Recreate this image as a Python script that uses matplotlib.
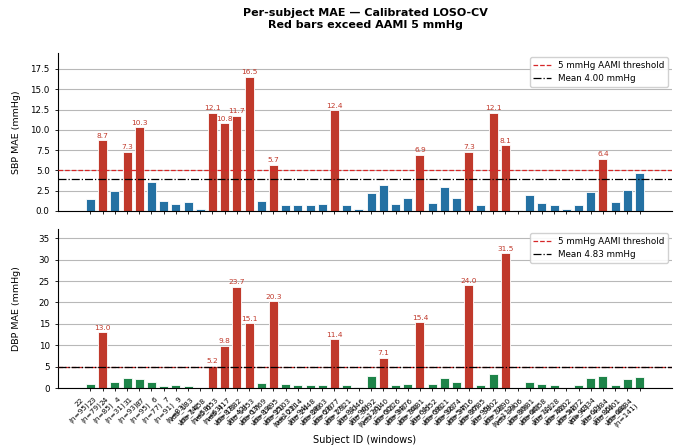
import numpy as np
import matplotlib.pyplot as plt

#### per-subject data ###############################
subject_ids = ["22", "23", "24", "4", "31", "87", "6", "7", "9", "vdb_183",
               "vdb_1458", "vdb_653", "vdb_417", "vdb_1882", "vdb_1853", "vdb_1769",
               "vdb_1495", "vdb_2103", "vdb_2214", "vdb_2448", "vdb_2663", "vdb_2677",
               "vdb_2921", "vdb_3046", "vdb_3092", "vdb_3140", "vdb_3226", "vdb_3376",
               "vdb_3481", "vdb_3552", "vdb_3621", "vdb_3674", "vdb_3716", "vdb_3785",
               "vdb_3802", "vdb_3890", "vdb_3906", "vdb_3981", "vdb_4058", "vdb_4128",
               "vdb_4202", "vdb_4272", "vdb_4334", "vdb_4384", "vdb_4401", "vdb_4484"]
n_windows = [95, 79, 85, 31, 93, 95, 77, 91, 83, 74,
             58, 63, 87, 42, 63, 89, 95, 103, 94, 88,
             63, 77, 81, 96, 126, 60, 94, 76, 61, 69,
             92, 54, 86, 95, 72, 112, 80, 66, 71, 78,
             54, 92, 62, 85, 68, 141]

sbp_mae = [1.5, 8.7, 2.5, 7.3, 10.3, 3.6, 1.2, 0.9, 1.1, 0.2,
           12.1, 10.8, 11.7, 16.5, 1.2, 5.7, 0.8, 0.8, 0.8, 0.9,
           12.4, 0.7, 0.2, 2.2, 3.2, 0.9, 1.6, 6.9, 1.0, 2.9,
           1.6, 7.3, 0.8, 12.1, 8.1, 0.15, 2.0, 1.0, 0.7, 0.25,
           0.8, 2.3, 6.4, 1.1, 2.6, 4.7]
dbp_mae = [0.9, 13.0, 1.5, 2.4, 2.0, 1.5, 0.5, 0.6, 0.5, 0.08,
           5.2, 9.8, 23.7, 15.1, 1.1, 20.3, 0.9, 0.8, 0.7, 0.7,
           11.4, 0.7, 0.2, 2.7, 7.1, 0.6, 1.0, 15.4, 0.9, 2.4,
           1.4, 24.0, 0.7, 3.2, 31.5, 0.05, 1.5, 1.0, 0.7, 0.08,
           0.6, 2.4, 2.8, 0.8, 2.0, 2.5]
sbp_mean = 4.00
dbp_mean = 4.83
aami_limit = 5

RED = '#c0392b'
BLUE = '#2471a3'
GREEN = '#1e8449'


def draw_panel(ax, values, mean_val, ok_color, ylabel):
    x = np.arange(len(values))
    vals = np.array(values)
    colors = [RED if v > aami_limit else ok_color for v in vals]
    ax.bar(x, vals, width=0.75, color=colors, edgecolor='white', linewidth=0.6, zorder=2)
    for xi, v in zip(x, vals):
        if v > aami_limit:
            ax.text(xi, v + vals.max() * 0.012, f"{v:.1f}", ha='center', va='bottom',
                    fontsize=5.3, color=RED)
    ax.axhline(aami_limit, color='#d62728', ls='--', lw=0.9, label=f'{aami_limit} mmHg AAMI threshold', zorder=3)
    ax.axhline(mean_val, color='black', ls='-.', lw=0.9, label=f'Mean {mean_val:.2f} mmHg', zorder=3)
    ax.set_ylim(0, vals.max() * 1.18)
    ax.set_ylabel(ylabel, fontsize=6.8)
    ax.yaxis.set_label_coords(-0.06, 0.5)
    ax.grid(axis='y', color='#b8b8b8', lw=0.8, zorder=0)
    ax.set_axisbelow(True)
    ax.spines['top'].set_visible(False)
    ax.spines['right'].set_visible(False)
    ax.tick_params(labelsize=6.3, length=2.5, width=0.6)
    ax.legend(loc='upper right', fontsize=6.3, framealpha=0.9, handlelength=2.0)
    ax.set_xticks(x)


fig = plt.figure(figsize=(6.78, 4.48), dpi=100)
ax1 = fig.add_axes([58 / 678, 1 - 211 / 448, 614 / 678, (211 - 53) / 448])
ax2 = fig.add_axes([58 / 678, 1 - 388 / 448, 614 / 678, (388 - 229) / 448])

draw_panel(ax1, sbp_mae, sbp_mean, BLUE, 'SBP MAE (mmHg)')
draw_panel(ax2, dbp_mae, dbp_mean, GREEN, 'DBP MAE (mmHg)')

ax1.set_xticklabels([])
labels = [f"{s}\n(n={n})" for s, n in zip(subject_ids, n_windows)]
ax2.set_xticklabels(labels, rotation=45, ha='right', fontsize=5.3)

fig.text(365 / 678, 1 - 440 / 448, 'Subject ID (windows)', ha='center', va='center', fontsize=7)
fig.text(365 / 678, 0.982, 'Per-subject MAE — Calibrated LOSO-CV\nRed bars exceed AAMI 5 mmHg',
         ha='center', va='top', fontsize=8, fontweight='bold')

fig.savefig('out.png', dpi=100)
